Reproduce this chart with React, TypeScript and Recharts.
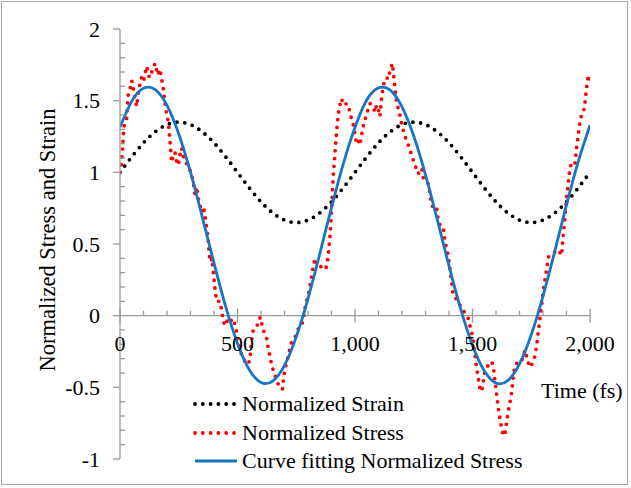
import React from 'react';
import {
  LineChart,
  Line,
  XAxis,
  YAxis,
  ReferenceLine,
  ReferenceDot,
  Legend,
} from 'recharts';

// Sample times (fs) for the strain and fitted-stress curves
const sampleTime = [
  0, 50, 100, 150, 200, 250, 300, 350, 400, 450, 500, 550, 600, 650, 700, 750, 800, 850, 900, 950,
  1000, 1050, 1100, 1150, 1200, 1250, 1300, 1350, 1400, 1450, 1500, 1550, 1600, 1650, 1700, 1750,
  1800, 1850, 1900, 1950, 2000,
];

// Normalized strain (applied sinusoidal loading)
const strainValue = [
  1.0, 1.108, 1.206, 1.283, 1.333, 1.35, 1.333, 1.283, 1.206, 1.108, 1.0, 0.892, 0.794, 0.717, 0.667,
  0.65, 0.667, 0.717, 0.794, 0.892, 1.0, 1.108, 1.206, 1.283, 1.333, 1.35, 1.333, 1.283, 1.206, 1.108,
  1.0, 0.892, 0.794, 0.717, 0.667, 0.65, 0.667, 0.717, 0.794, 0.892, 1.0,
];

// Curve fitting of the normalized stress
const fitValue = [
  1.314, 1.497, 1.587, 1.577, 1.467, 1.268, 1.001, 0.689, 0.366, 0.061, -0.194, -0.377, -0.467, -0.456,
  -0.347, -0.148, 0.119, 0.431, 0.754, 1.059, 1.314, 1.505, 1.589, 1.573, 1.457, 1.253, 0.983, 0.671,
  0.347, 0.045, -0.208, -0.384, -0.47, -0.453, -0.337, -0.133, 0.137, 0.449, 0.773, 1.075, 1.328,
];

// Normalized stress from the simulation
const stressTime = [
  0, 5, 10, 14, 18, 28, 35, 45, 50, 60, 71, 80, 92, 100, 113, 125, 135, 149, 160, 170, 184, 191, 199,
  206, 213, 220, 227, 234, 241, 248, 255, 262, 270, 277, 291, 305, 312, 319, 326, 333, 340, 347, 355,
  362, 369, 376, 380, 386, 392, 397, 404, 411, 426, 433, 440, 447, 461, 468, 482, 496, 503, 511, 518,
  532, 546, 553, 560, 567, 582, 589, 598, 605, 612, 624, 631, 638, 645, 652, 667, 681, 692, 695, 702,
  716, 723, 731, 745, 759, 773, 780, 787, 794, 801, 809, 816, 823, 830, 837, 851, 865, 879, 886, 894,
  901, 908, 915, 922, 929, 936, 943, 950, 965, 972, 979, 993, 1000, 1007, 1014, 1021, 1028, 1035,
  1050, 1064, 1078, 1085, 1092, 1099, 1106, 1113, 1120, 1128, 1135, 1142, 1149, 1159, 1163, 1170,
  1177, 1191, 1199, 1213, 1227, 1241, 1255, 1269, 1284, 1291, 1305, 1312, 1319, 1326, 1340, 1347,
  1355, 1369, 1376, 1383, 1397, 1404, 1411, 1418, 1440, 1454, 1468, 1482, 1489, 1496, 1503, 1511,
  1518, 1525, 1532, 1539, 1546, 1553, 1567, 1574, 1582, 1589, 1596, 1603, 1610, 1617, 1624, 1631,
  1638, 1645, 1652, 1660, 1667, 1674, 1681, 1695, 1709, 1716, 1723, 1738, 1745, 1759, 1766, 1773,
  1780, 1787, 1794, 1801, 1809, 1816, 1823, 1837, 1851, 1865, 1879, 1886, 1894, 1901, 1908, 1915,
  1922, 1936, 1943, 1950, 1957, 1964, 1971, 1979, 1986, 1993, 2000,
];
const stressValue = [
  1.0, 1.05, 1.14, 1.26, 1.33, 1.37, 1.54, 1.6, 1.64, 1.55, 1.46, 1.58, 1.66, 1.63, 1.74, 1.66, 1.7,
  1.76, 1.68, 1.72, 1.585, 1.49, 1.4, 1.35, 1.21, 1.07, 1.12, 1.14, 1.07, 1.05, 1.12, 1.17, 1.11, 1.07,
  1.05, 0.98, 0.93, 0.84, 0.9, 0.82, 0.78, 0.72, 0.76, 0.7, 0.61, 0.515, 0.42, 0.375, 0.4, 0.305, 0.19,
  0.1, 0.1, 0.03, -0.04, -0.07, -0.02, -0.04, -0.02, -0.11, -0.18, -0.23, -0.28, -0.32, -0.34, -0.3,
  -0.17, -0.1, -0.08, -0.03, -0.01, -0.07, -0.11, -0.16, -0.23, -0.28, -0.34, -0.38, -0.45, -0.51,
  -0.51, -0.45, -0.37, -0.28, -0.23, -0.18, -0.15, -0.09, -0.07, -0.02, 0.05, 0.1, 0.14, 0.21, 0.28,
  0.35, 0.4, 0.35, 0.35, 0.32, 0.34, 0.42, 0.56, 0.76, 0.99, 1.14, 1.29, 1.41, 1.47, 1.515, 1.47, 1.48,
  1.47, 1.41, 1.33, 1.26, 1.2, 1.22, 1.19, 1.26, 1.32, 1.41, 1.48, 1.46, 1.42, 1.47, 1.44, 1.39, 1.515,
  1.6, 1.655, 1.66, 1.65, 1.71, 1.76, 1.7, 1.585, 1.49, 1.4, 1.33, 1.25, 1.19, 1.12, 1.05, 0.99, 1.03,
  0.96, 0.93, 0.92, 0.85, 0.77, 0.75, 0.76, 0.655, 0.61, 0.61, 0.515, 0.42, 0.33, 0.235, 0.14, 0.1,
  0.05, 0.02, -0.02, -0.07, -0.11, -0.18, -0.28, -0.37, -0.44, -0.51, -0.53, -0.46, -0.39, -0.345,
  -0.33, -0.32, -0.36, -0.46, -0.555, -0.65, -0.72, -0.79, -0.835, -0.835, -0.74, -0.67, -0.6, -0.53,
  -0.415, -0.345, -0.32, -0.32, -0.28, -0.24, -0.33, -0.36, -0.32, -0.28, -0.21, -0.11, -0.02, 0.07,
  0.17, 0.26, 0.33, 0.41, 0.42, 0.445, 0.46, 0.42, 0.56, 0.7, 0.84, 0.93, 1.03, 1.07, 1.06, 1.17, 1.26,
  1.35, 1.4, 1.41, 1.49, 1.6, 1.68, 1.62,
];

// Axis ticks
const yTickValues = [-1, -0.5, 0, 0.5, 1, 1.5, 2];
const yMinorTicks = [
  -0.9, -0.8, -0.7, -0.6, -0.4, -0.3, -0.2, -0.1, 0.1, 0.2, 0.3, 0.4, 0.6, 0.7, 0.8, 0.9, 1.1, 1.2,
  1.3, 1.4, 1.6, 1.7, 1.8, 1.9,
];
const xTickValues = [0, 500, 1000, 1500, 2000];
const xTickLabels = ['0', '500', '1,000', '1,500', '2,000'];
const xMinorTicks = [
  100, 200, 300, 400, 600, 700, 800, 900, 1100, 1200, 1300, 1400, 1600, 1700, 1800, 1900,
];

const seriesNames = ['Normalized Strain', 'Normalized Stress', 'Curve fitting Normalized Stress'];

const FONT = '"Liberation Serif", "Times New Roman", serif';
const FONT_SIZE = 22;
const AXIS_GRAY = '#9a9a9a';
const BLUE = '#1874c8';
const RED = '#ff0000';
const DOT_DASH = '0 7.8';

const toPoints = (xs: number[], ys: number[]) => xs.map((t, i) => ({ t, v: ys[i] }));

const strainData = toPoints(sampleTime, strainValue);
const fitData = toPoints(sampleTime, fitValue);
const stressData = toPoints(stressTime, stressValue);

const legendStyles = [
  { color: '#000000', width: 3.8, dash: DOT_DASH },
  { color: RED, width: 3.8, dash: DOT_DASH },
  { color: BLUE, width: 2.8, dash: undefined as string | undefined },
];

function LegendContent() {
  return (
    <div style={{ fontFamily: FONT, fontSize: FONT_SIZE, color: '#000' }}>
      {seriesNames.map((name, i) => {
        const s = legendStyles[i];
        return (
          <div
            key={name}
            style={{ display: 'flex', alignItems: 'center', height: 28.5, whiteSpace: 'nowrap' }}
          >
            <svg width={49} height={10} style={{ display: 'block' }}>
              <line
                x1={2}
                x2={44}
                y1={5}
                y2={5}
                stroke={s.color}
                strokeWidth={s.width}
                strokeDasharray={s.dash}
                strokeLinecap={s.dash ? 'round' : 'butt'}
              />
            </svg>
            <span style={{ lineHeight: '28.5px' }}>{name}</span>
          </div>
        );
      })}
    </div>
  );
}

const xMajorShape = (label: string) => (p: any) => (
  <g>
    <line x1={p.cx} x2={p.cx} y1={p.cy - 7} y2={p.cy + 7} stroke={AXIS_GRAY} strokeWidth={1.3} />
    <text
      x={p.cx}
      y={p.cy + 35}
      textAnchor="middle"
      fontFamily={FONT}
      fontSize={FONT_SIZE}
      fill="#000"
    >
      {label}
    </text>
  </g>
);

const xMinorShape = (p: any) => (
  <line x1={p.cx} x2={p.cx} y1={p.cy - 5} y2={p.cy} stroke={AXIS_GRAY} strokeWidth={1.3} />
);

const yMinorShape = (p: any) => (
  <line x1={p.cx} x2={p.cx + 5} y1={p.cy} y2={p.cy} stroke={AXIS_GRAY} strokeWidth={1.3} />
);

export default function App() {
  return (
    <div
      style={{
        position: 'absolute',
        left: 0,
        top: 0,
        width: 631,
        height: 488,
        background: '#ffffff',
        fontFamily: FONT,
      }}
    >
      <div
        style={{
          position: 'absolute',
          left: 1,
          top: 1,
          width: 627,
          height: 484,
          border: '1px solid #a6a6a6',
          boxSizing: 'border-box',
        }}
      />
      <LineChart
        width={631}
        height={488}
        margin={{ top: 29, right: 41, bottom: 29, left: 60 }}
      >
        <XAxis type="number" dataKey="t" domain={[0, 2000]} hide allowDataOverflow />
        <YAxis
          type="number"
          width={60}
          domain={[-1, 2]}
          ticks={yTickValues}
          interval={0}
          allowDataOverflow
          stroke={AXIS_GRAY}
          strokeWidth={1.3}
          tickSize={7}
          tickMargin={13}
          tick={{ fill: '#000', fontSize: FONT_SIZE, fontFamily: FONT }}
          label={{
            content: () => (
              <text
                transform="translate(55,240) rotate(-90)"
                textAnchor="middle"
                fontFamily={FONT}
                fontSize={22.5}
                fill="#000"
              >
                Normalized Stress and Strain
              </text>
            ),
          }}
        />
        <ReferenceLine
          y={0}
          stroke={AXIS_GRAY}
          strokeWidth={1.3}
          label={{
            content: (props: any) => {
              const vb = props.viewBox || {};
              const right = (vb.x ?? 120) + (vb.width ?? 470);
              return (
                <text
                  x={right - 49}
                  y={(vb.y ?? 315) + 82}
                  textAnchor="start"
                  fontFamily={FONT}
                  fontSize={FONT_SIZE}
                  fill="#000"
                >
                  Time (fs)
                </text>
              );
            },
          }}
        />
        {yMinorTicks.map((v) => (
          <ReferenceDot key={`ym${v}`} x={0} y={v} r={0} shape={yMinorShape} />
        ))}
        {xMinorTicks.map((t) => (
          <ReferenceDot key={`xm${t}`} x={t} y={0} r={0} shape={xMinorShape} />
        ))}
        {xTickValues.map((t, i) => (
          <ReferenceDot key={`xM${t}`} x={t} y={0} r={0} shape={xMajorShape(xTickLabels[i])} />
        ))}
        <Line
          data={strainData}
          dataKey="v"
          name={seriesNames[0]}
          type="natural"
          stroke="#000000"
          strokeWidth={3.8}
          strokeDasharray={DOT_DASH}
          strokeLinecap="round"
          dot={false}
          activeDot={false}
          isAnimationActive={false}
        />
        <Line
          data={stressData}
          dataKey="v"
          name={seriesNames[1]}
          type="linear"
          stroke={RED}
          strokeWidth={3.8}
          strokeDasharray={DOT_DASH}
          strokeLinecap="round"
          dot={false}
          activeDot={false}
          isAnimationActive={false}
        />
        <Line
          data={fitData}
          dataKey="v"
          name={seriesNames[2]}
          type="natural"
          stroke={BLUE}
          strokeWidth={2.8}
          dot={false}
          activeDot={false}
          isAnimationActive={false}
        />
        <Legend
          layout="vertical"
          align="center"
          verticalAlign="middle"
          content={() => <LegendContent />}
          wrapperStyle={{ left: 193, top: 390, width: 'auto', margin: 0 }}
        />
      </LineChart>
    </div>
  );
}
